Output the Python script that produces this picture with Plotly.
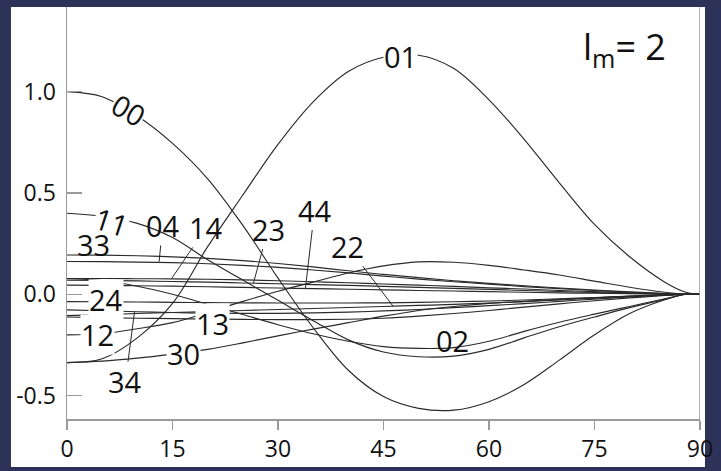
import plotly.graph_objects as go

# ---------------- data ----------------
angle = [0, 5, 10, 15, 20, 25, 30, 35, 40, 45, 50, 55, 60, 65, 70, 75, 80, 85, 88, 90]

c00 = [1.0, 0.975, 0.88, 0.745, 0.57, 0.34, 0.08, -0.165, -0.375, -0.505, -0.563, -0.572, -0.53, -0.445, -0.325, -0.2, -0.095, -0.027, 0.0, 0.0]
c01 = [-0.337, -0.318, -0.215, -0.045, 0.235, 0.49, 0.74, 0.95, 1.10, 1.17, 1.18, 1.115, 0.96, 0.765, 0.55, 0.345, 0.185, 0.06, 0.01, 0.0]
c11 = [0.40, 0.385, 0.35, 0.28, 0.17, 0.07, -0.03, -0.13, -0.225, -0.285, -0.308, -0.305, -0.272, -0.215, -0.16, -0.112, -0.066, -0.025, 0.0, 0.0]
c02 = [0.078, 0.068, 0.04, 0.0, -0.05, -0.10, -0.15, -0.195, -0.232, -0.258, -0.267, -0.263, -0.232, -0.183, -0.138, -0.098, -0.06, -0.022, 0.0, 0.0]
c12 = [-0.20, -0.195, -0.17, -0.14, -0.09, -0.035, 0.015, 0.06, 0.105, 0.14, 0.16, 0.158, 0.143, 0.12, 0.095, 0.065, 0.035, 0.01, 0.0, 0.0]
c30 = [-0.337, -0.33, -0.315, -0.295, -0.272, -0.24, -0.205, -0.172, -0.14, -0.108, -0.08, -0.06, -0.045, -0.035, -0.025, -0.017, -0.01, -0.004, 0.0, 0.0]
c13 = [-0.112, -0.115, -0.118, -0.12, -0.122, -0.124, -0.125, -0.125, -0.123, -0.118, -0.108, -0.095, -0.08, -0.063, -0.047, -0.032, -0.018, -0.006, 0.0, 0.0]
c24 = [-0.036, -0.037, -0.038, -0.04, -0.041, -0.042, -0.043, -0.043, -0.043, -0.042, -0.04, -0.037, -0.033, -0.028, -0.022, -0.016, -0.009, -0.003, 0.0, 0.0]
c34 = [-0.077, -0.081, -0.086, -0.09, -0.093, -0.094, -0.094, -0.092, -0.088, -0.082, -0.075, -0.066, -0.056, -0.046, -0.035, -0.024, -0.013, -0.004, 0.0, 0.0]
c22 = [-0.105, -0.10, -0.095, -0.09, -0.085, -0.08, -0.075, -0.07, -0.065, -0.06, -0.055, -0.05, -0.043, -0.036, -0.028, -0.019, -0.01, -0.003, 0.0, 0.0]
c14 = [0.078, 0.078, 0.077, 0.076, 0.074, 0.071, 0.067, 0.062, 0.057, 0.051, 0.045, 0.039, 0.032, 0.026, 0.019, 0.013, 0.007, 0.002, 0.0, 0.0]
c23 = [0.07, 0.068, 0.066, 0.063, 0.06, 0.056, 0.052, 0.048, 0.044, 0.039, 0.034, 0.029, 0.024, 0.019, 0.014, 0.009, 0.005, 0.0015, 0.0, 0.0]
c44 = [0.045, 0.044, 0.042, 0.04, 0.037, 0.034, 0.031, 0.028, 0.025, 0.022, 0.019, 0.016, 0.013, 0.01, 0.007, 0.005, 0.003, 0.001, 0.0, 0.0]
c04 = [0.162, 0.161, 0.159, 0.156, 0.151, 0.143, 0.133, 0.12, 0.106, 0.09, 0.075, 0.062, 0.05, 0.038, 0.028, 0.019, 0.01, 0.003, 0.0, 0.0]
c33 = [0.194, 0.193, 0.19, 0.185, 0.177, 0.166, 0.152, 0.135, 0.116, 0.098, 0.082, 0.067, 0.054, 0.042, 0.031, 0.021, 0.012, 0.004, 0.0, 0.0]

series = {
    "00": c00, "01": c01, "11": c11, "02": c02, "12": c12, "30": c30, "13": c13,
    "24": c24, "34": c34, "22": c22, "14": c14, "23": c23, "44": c44, "04": c04, "33": c33,
}

# inline labels: name, x, y, angle
inline_names = ["00", "01", "02", "11", "12", "13", "24", "30", "33"]
inline_x = [8.7, 47.4, 54.8, 6.3, 4.3, 20.7, 5.6, 16.6, 3.75]
inline_y = [0.91, 1.176, -0.226, 0.36, -0.196, -0.144, -0.028, -0.292, 0.248]
inline_rot = [30, 0, 0, 18, 0, 0, 0, 0, 0]
inline_bg = [True, True, False, True, True, True, True, True, False]

# leader labels: name, tip x, tip y, text x, text y
leader_names = ["04", "14", "23", "44", "22", "34"]
leader_tip_x = [13.1, 14.9, 26.5, 33.9, 46.4, 9.6]
leader_tip_y = [0.161, 0.079, 0.054, 0.03, -0.061, -0.086]
leader_txt_x = [13.6, 19.8, 28.6, 35.2, 39.9, 8.3]
leader_txt_y = [0.34, 0.33, 0.322, 0.416, 0.238, -0.431]

x_ticks = [0, 15, 30, 45, 60, 75, 90]
y_ticks = [-0.5, 0.0, 0.5, 1.0]
y_tick_text = ["-0.5", "0.0", "0.5", "1.0"]

# ---------------- figure ----------------
FONT = "Open Sans"
LINE = "#2a2a2a"
AXIS = "#9a9a9a"
TXT = "#111111"

fig = go.Figure()
for name, vals in series.items():
    fig.add_trace(go.Scatter(
        x=angle, y=vals, mode="lines", name=name,
        line=dict(color=LINE, width=1.15, shape="spline", smoothing=1.0),
        hoverinfo="skip", showlegend=False,
    ))

annotations = []
for n, x, y, r, bg in zip(inline_names, inline_x, inline_y, inline_rot, inline_bg):
    annotations.append(dict(
        x=x, y=y, xref="x", yref="y", text=n, showarrow=False,
        textangle=r, font=dict(family=FONT, size=29, color=TXT),
        bgcolor="white" if bg else "rgba(0,0,0,0)", borderpad=0,
    ))
for n, tx, ty, lx, ly in zip(leader_names, leader_tip_x, leader_tip_y, leader_txt_x, leader_txt_y):
    annotations.append(dict(
        x=tx, y=ty, xref="x", yref="y", ax=lx, ay=ly, axref="x", ayref="y",
        text=n, showarrow=True, arrowhead=0, arrowwidth=1, arrowcolor=LINE,
        standoff=0, startstandoff=0,
        font=dict(family=FONT, size=29, color=TXT), borderpad=0,
    ))
annotations.append(dict(
    x=79.3, y=1.215, xref="x", yref="y", showarrow=False,
    text="l<sub>m</sub>= 2", font=dict(family=FONT, size=36, color=TXT),
))

fig.update_layout(
    width=721, height=471,
    margin=dict(l=67, r=21, t=7, b=52, autoexpand=False),
    paper_bgcolor="#2d3259",
    plot_bgcolor="white",
    annotations=annotations,
    shapes=[
        dict(type="rect", xref="paper", yref="paper",
             x0=-0.0885, x1=1.0079, y0=-0.1165, y1=1.0,
             fillcolor="white", line=dict(width=0), layer="below"),
        dict(type="line", xref="x", yref="paper", x0=90, x1=90, y0=-0.022, y1=1.0,
             line=dict(color=AXIS, width=1.5)),
    ],
    xaxis=dict(range=[0, 90], tickvals=x_ticks, ticks="outside", ticklen=9,
               tickcolor=AXIS, tickwidth=1.5, showline=True, linecolor=AXIS,
               linewidth=1.5, showgrid=False, zeroline=False, automargin=False,
               tickfont=dict(family=FONT, size=23, color=TXT)),
    yaxis=dict(range=[-0.6155, 1.418], tickvals=y_ticks, ticktext=y_tick_text,
               ticks="inside", ticklen=15, tickcolor=AXIS, tickwidth=1.5,
               showline=True, linecolor=AXIS, linewidth=1.5, showgrid=False,
               zeroline=False, ticklabelstandoff=5, automargin=False,
               tickfont=dict(family=FONT, size=23, color=TXT)),
)

fig.write_html(
    "out.html",
    config={"displayModeBar": False, "staticPlot": True},
    post_script="document.body.style.margin='0';document.body.style.padding='0';"
                "document.body.style.overflow='hidden';",
)
